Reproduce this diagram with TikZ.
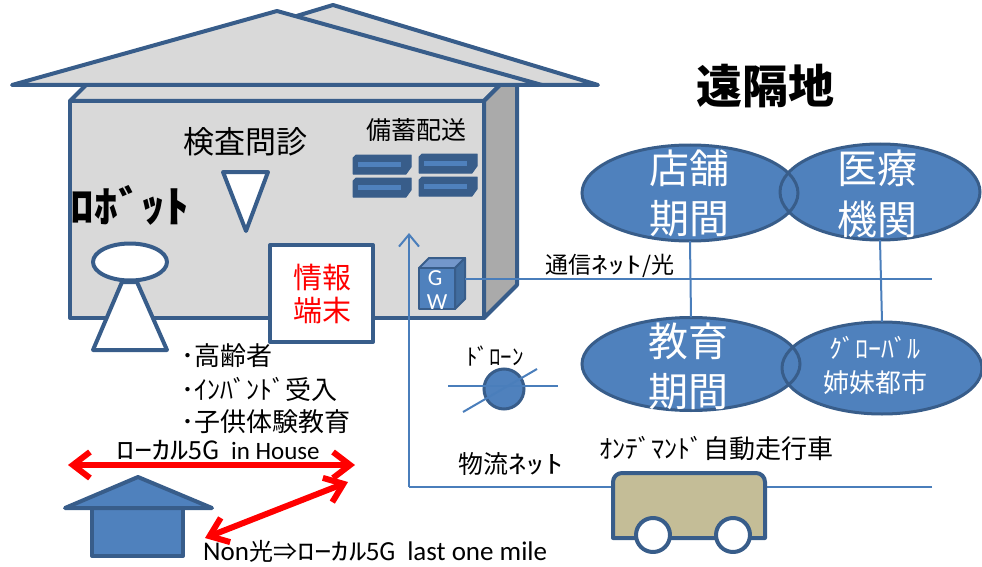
\documentclass[tikz,border=0pt]{standalone}
\usepackage{fontspec}
\setmainfont{Noto Sans CJK JP}
\newfontfamily\latinfont{Carlito}
\newfontfamily\widekana[FakeStretch=1.45]{Noto Sans CJK JP}
\newfontfamily\robotfont[FakeStretch=1.1]{Noto Sans CJK JP}
\usetikzlibrary{arrows.meta,shapes.geometric}

\definecolor{edge}{HTML}{385D8A}
\definecolor{fillb}{HTML}{4F81BD}
\definecolor{link}{HTML}{4A7EBB}
\definecolor{wall}{HTML}{D9D9D9}
\definecolor{side}{HTML}{AAAAAA}
\definecolor{cart}{HTML}{C4BD97}
\definecolor{gwtop}{HTML}{7397CB}
\definecolor{gwside}{HTML}{416D9F}

\newcommand\fsz[1]{\fontsize{#1pt}{#1pt}\selectfont}

\tikzset{
  outline/.style={draw=edge, line width=4pt, line join=round},
  conn/.style={draw=link, line width=2pt},
  txt/.style={inner sep=0pt, anchor=center},
  blob/.style={ellipse, fill=fillb, inner sep=0pt},
  blobline/.style={draw=edge, line width=3pt},
  wtxt/.style={txt, text=white},
  shelf/.style={fill=edge, draw=edge, line width=1pt, line join=round},
  stripe/.style={fill=fillb},
  redarrow/.style={draw=red, line width=6pt,
    {Straight Barb[length=17pt,width=26pt]}-{Straight Barb[length=17pt,width=26pt]}},
  uparrow/.style={conn, -{Straight Barb[length=12pt,width=20pt]}},
}

\begin{document}
\begin{tikzpicture}[x=1pt,y=-1pt]
\useasboundingbox (0,0) rectangle (982,567);

% ---------- building: box ----------
\filldraw[outline, fill=wall] (70,101) -- (103,68) -- (517,68) -- (484,101) -- cycle;
\filldraw[outline, fill=side] (484,101) -- (517,68) -- (517,285) -- (484,318) -- cycle;
\filldraw[outline, fill=wall] (70,101) rectangle (484,318);

% ---------- building: roof ----------
\filldraw[outline, fill=wall] (68,85) -- (333,5) -- (598,85) -- cycle;
\filldraw[outline, fill=wall] (12,85) -- (277,11) -- (542,85) -- cycle;
\draw[outline] (12,85) -- (598,85);

% ---------- examination ----------
\node[txt] (exam) at (245,142) {\fsz{31}検査問診};
\filldraw[outline, fill=white] (223,172) -- (268,172) -- (246,231) -- cycle;

% ---------- robot ----------
\node[txt] (robot) at (130,205) {\robotfont\bfseries\fsz{43}ﾛﾎﾞｯﾄ};
\filldraw[outline, fill=white] (122,282) -- (137,282) -- (167,350) -- (93,350) -- cycle;
\node[ellipse, outline, fill=white, minimum width=74pt, minimum height=37pt, inner sep=0pt]
  (head) at (130,262) {};

% ---------- storage ----------
\node[txt] (store) at (416,130) {\fsz{25}備蓄配送};
\foreach \x/\y in {353/155, 419/154, 353/178, 419/177}{
  \filldraw[shelf] (\x+3,\y) -- (\x+58,\y) -- (\x+58,\y+12) -- (\x+53,\y+19)
     -- (\x,\y+19) -- (\x,\y+3) -- cycle;
  \fill[stripe] (\x+5,\y+7) rectangle (\x+48,\y+12);
}

% ---------- information terminal ----------
\node[outline, fill=white, minimum width=103pt, minimum height=97pt, inner sep=0pt]
  (term) at (321.5,293.5) {};
\node[txt, text=red] (termA) at (322,278) {\fsz{29}情報};
\node[txt, text=red] (termB) at (322,310) {\fsz{29}端末};

% ---------- gateway ----------
\filldraw[draw=edge, line width=2pt, line join=round, fill=gwtop]
  (419,268) -- (429,258) -- (465,258) -- (455,268) -- cycle;
\filldraw[draw=edge, line width=2pt, line join=round, fill=gwside]
  (455,268) -- (465,258) -- (465,299) -- (455,309) -- cycle;
\filldraw[draw=edge, line width=2pt, line join=round, fill=fillb]
  (419,268) rectangle (455,309);
\node[wtxt] (gwG) at (435,278) {\latinfont\fsz{23}G};
\node[wtxt] (gwW) at (437,302) {\latinfont\fsz{23}W};
\coordinate (gw) at (465,279);

% ---------- title ----------
\node[txt] (remote) at (765,86) {\fsz{46}\bfseries 遠隔地};

% ---------- remote facilities ----------
\node[blob, minimum width=216pt, minimum height=96pt] (shop) at (690,193) {};
\node[blob, minimum width=200pt, minimum height=96pt] (med) at (880,192) {};
\node[blob, minimum width=218pt, minimum height=93pt] (edu) at (691,364) {};
\node[blob, minimum width=200pt, minimum height=92pt] (glob) at (882,368) {};
\foreach \n/\a/\b in {shop/108/48, med/100/48, edu/109/46.5, glob/100/46}{
  \draw[blobline] (\n.center) ellipse [x radius=\a pt, y radius=\b pt];
}
\node[wtxt] (shopA) at (689,168) {\fsz{40}店舗};
\node[wtxt] (shopB) at (689,219) {\fsz{40}期間};
\node[wtxt] (medA) at (877,168) {\fsz{40}医療};
\node[wtxt] (medB) at (877,219) {\fsz{40}機関};
\node[wtxt] (eduA) at (688,341) {\fsz{40}教育};
\node[wtxt] (eduB) at (688,392) {\fsz{40}期間};
\node[wtxt] (globA) at (875,348) {\fsz{26}ｸﾞﾛｰﾊﾞﾙ};
\node[wtxt] (globB) at (875,383) {\fsz{26}姉妹都市};

% ---------- communication network ----------
\coordinate (netEnd) at (932,279);
\draw[conn] (gw) -- (netEnd);
\node[txt] (netLbl) at (610,266) {\fsz{23}通信{\widekana ﾈｯﾄ}/光};
\draw[conn] (shop.south) -- (edu.north);
\draw[conn] (med.south) -- (glob.north);

% ---------- logistics network ----------
\coordinate (logEnd) at (932,487);
\coordinate (corner) at (409,487);
\coordinate (upTip) at (409,233);
\draw[conn] (logEnd) -- (corner);
\draw[uparrow] (corner) -- (upTip);
\node[txt] (logLbl) at (511,464) {\fsz{25}物流{\widekana ﾈｯﾄ}};

% ---------- drone ----------
\node[circle, fill=fillb, draw=edge, line width=3pt, minimum size=40pt, inner sep=0pt]
  (drone) at (504,389) {};
\coordinate (rotorL) at (448,386);
\coordinate (rotorR) at (558,386);
\coordinate (armL) at (463,412);
\coordinate (armR) at (537,369);
\draw[conn] (rotorL) -- (rotorR);
\draw[conn] (armL) -- (armR);
\node[txt] (droneLbl) at (495,356) {\fsz{23}ﾄﾞﾛｰﾝ};

% ---------- on-demand vehicle ----------
\node[txt] (carLbl) at (716,449) {\fsz{26}ｵﾝﾃﾞﾏﾝﾄﾞ自動走行車};
\coordinate (car) at (689,505.5);
\filldraw[outline, fill=cart] (613,538) -- (613,482) arc[start angle=180, end angle=90, radius=9pt]
  -- (756,473) arc[start angle=90, end angle=0, radius=9pt] -- (765,538) -- cycle;
\node[circle, outline, fill=white, minimum size=34pt, inner sep=0pt] (wheelL) at (653,535) {};
\node[circle, outline, fill=white, minimum size=34pt, inner sep=0pt] (wheelR) at (733,535) {};

% ---------- user groups ----------
\node[txt, anchor=west] (usrA) at (181,356) {\fsz{26}･高齢者};
\node[txt, anchor=west] (usrB) at (181,389) {\fsz{26}･ｲﾝﾊﾞﾝﾄﾞ受入};
\node[txt, anchor=west] (usrC) at (181,422) {\fsz{26}･子供体験教育};

% ---------- local 5G ----------
\node[txt] (inHouse) at (218,450) {\fsz{25}{\widekana ﾛｰｶﾙ}5G\ \ {\latinfont in House}};
\coordinate (inL) at (68,465);
\coordinate (inR) at (355,465);
\draw[redarrow] (inL) -- (inR);

\filldraw[outline, fill=fillb] (92,508) rectangle (183,556);
\filldraw[outline, fill=fillb] (65,508) -- (138,477) -- (212,508) -- cycle;
\coordinate (mileL) at (205,538);
\coordinate (mileR) at (348,482);
\draw[redarrow] (mileL) -- (mileR);
\node[txt, anchor=west] (lastMile) at (203,551)
  {\fsz{24}{\latinfont\fsz{27}Non}光⇒{\widekana ﾛｰｶﾙ}5G\ \ {\latinfont\fsz{27}last one mile}};
\end{tikzpicture}
\end{document}
